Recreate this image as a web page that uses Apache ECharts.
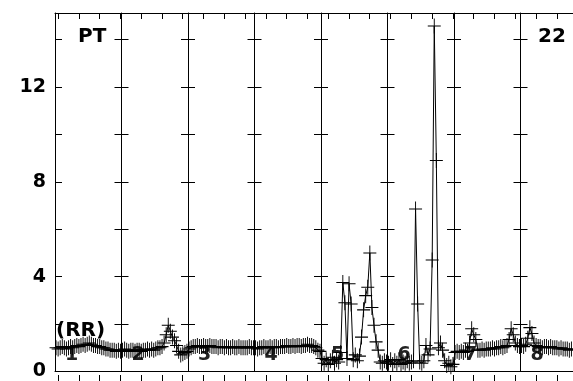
<!DOCTYPE html>
<html><head><meta charset="utf-8">
<script src="https://cdn.jsdelivr.net/npm/echarts@6/dist/echarts.min.js"></script>
<style>html,body{margin:0;padding:0;background:#fff}#c{width:573px;height:381px}</style>
</head><body><div id="c"></div>
<script>
// ---- data ----
const panelLabels = ['1', '2', '3', '4', '5', '6', '7', '8'];
const panel1 = [1.0, 0.95, 1.0, 1.05, 1.0, 0.95, 1.0, 1.05, 1.0, 1.05, 1.1, 1.05, 1.1, 1.15, 1.1, 1.15, 1.2, 1.15, 1.1, 1.1, 1.05, 1.05, 1.0, 1.0, 0.95, 0.95, 0.9, 0.9, 0.9, 0.85, 0.9, 0.85];
const panel2 = [0.9, 0.95, 0.9, 0.85, 0.9, 0.9, 0.85, 0.9, 0.9, 0.85, 0.9, 0.9, 0.95, 0.9, 0.95, 0.9, 0.95, 1.0, 1.0, 1.05, 1.2, 1.55, 1.95, 1.7, 1.45, 1.3, 1.1, 0.85, 0.7, 0.75, 0.8, 0.85];
const panel3 = [0.95, 1.0, 1.05, 1.05, 1.1, 1.05, 1.05, 1.1, 1.05, 1.05, 1.1, 1.05, 1.05, 1.05, 1.0, 1.05, 1.05, 1.0, 1.05, 1.0, 1.0, 1.05, 1.0, 1.0, 1.05, 1.0, 1.0, 1.0, 1.0, 1.05, 1.0, 1.0];
const panel4 = [1.0, 0.95, 1.0, 1.0, 1.05, 1.0, 1.0, 1.05, 1.0, 1.05, 1.05, 1.0, 1.05, 1.05, 1.05, 1.1, 1.05, 1.05, 1.1, 1.05, 1.1, 1.1, 1.05, 1.1, 1.1, 1.15, 1.1, 1.1, 1.05, 1.0, 0.9, 0.85];
const panel5 = [0.55, 0.35, 0.5, 0.3, 0.45, 0.6, 0.35, 0.5, 0.4, 0.8, 3.75, 2.9, 0.55, 3.7, 2.85, 0.5, 0.7, 0.45, 0.65, 1.45, 2.6, 3.2, 3.55, 5.0, 2.7, 1.95, 1.25, 0.9, 0.4, 0.35, 0.45, 0.4];
const panel6 = [0.35, 0.5, 0.3, 0.45, 0.35, 0.5, 0.3, 0.4, 0.35, 0.45, 0.35, 0.4, 0.45, 6.85, 2.85, 0.4, 0.35, 0.45, 1.1, 0.7, 0.95, 4.7, 14.57, 8.9, 1.0, 1.2, 0.9, 0.45, 0.25, 0.35, 0.2, 0.3];
const panel7 = [0.8, 0.85, 0.8, 0.85, 0.8, 0.9, 0.85, 1.2, 1.8, 1.55, 1.35, 0.9, 0.9, 0.95, 0.9, 0.95, 0.95, 0.95, 1.0, 0.95, 1.0, 1.0, 1.05, 1.0, 1.05, 1.1, 1.35, 1.8, 1.55, 1.2, 1.1, 1.05];
const panel8 = [1.1, 1.05, 1.15, 1.4, 1.85, 1.6, 1.2, 1.1, 1.05, 1.05, 1.0, 1.05, 1.05, 1.0, 1.05, 1.0, 1.0, 1.0, 0.95, 1.0, 0.95, 0.95, 0.95, 0.9, 0.95, 0.9, 0.9, 0.95, 0.9, 0.9, 0.9, 0.9];
const panels = [panel1, panel2, panel3, panel4, panel5, panel6, panel7, panel8];
const yLabels = [0, 4, 8, 12];
const titleLeft = 'PT';
const titleRight = '22';
const seriesLabel = '(RR)';

// ---- layout ----
const W = 573, H = 381;
const GRID_LEFT = 55, GRID_TOP = 13, GRID_BOTTOM = 9;
const PTS = 32;                 // x units per panel
const X_MAX = 249.26;
const Y_MAX = 15.12;
const pxPerUnit = (W - GRID_LEFT) / X_MAX;
const panelPx = PTS * pxPerUnit;
const TICK_LEFT = 58;
const FONT = '"DejaVu Sans", "Liberation Sans", sans-serif';

const data = [];
panels.forEach((arr, p) => arr.forEach((v, i) => data.push([p * PTS + i + 0.5, v])));

const yAxes = [{
  type: 'value', gridIndex: 0, min: 0, max: Y_MAX, interval: 2, position: 'left',
  axisLine: { show: true, onZero: false, lineStyle: { color: '#000', width: 1 } },
  axisTick: { show: true, inside: true, length: 7, lineStyle: { color: '#000', width: 1 } },
  axisLabel: {
    formatter: v => yLabels.includes(v) ? String(v) : '',
    fontFamily: FONT, fontWeight: 'bold', fontSize: 19, color: '#000', margin: 9
  },
  splitLine: { show: false }
}];
for (let k = 1; k < panels.length; k++) {
  [true, false].forEach(inside => {
    yAxes.push({
      type: 'value', gridIndex: 0, min: 0, max: Y_MAX, interval: 2, position: 'left',
      offset: -k * panelPx,
      axisLine: { show: !inside, onZero: false, lineStyle: { color: '#000', width: 1 } },
      axisTick: { show: true, inside: inside, length: 7, lineStyle: { color: '#000', width: 1 } },
      axisLabel: { show: false }, splitLine: { show: false }
    });
  });
}
yAxes.push({ type: 'value', gridIndex: 1, min: 0, max: 1, show: false });

const xTickMax = (W - TICK_LEFT) / pxPerUnit;
const xAxes = [
  { type: 'value', gridIndex: 0, min: 0, max: X_MAX, position: 'bottom',
    axisLine: { show: true, onZero: false, lineStyle: { color: '#000', width: 1 } },
    axisTick: { show: false }, axisLabel: { show: false }, splitLine: { show: false } },
  { type: 'value', gridIndex: 0, min: 0, max: X_MAX, position: 'top',
    axisLine: { show: true, onZero: false, lineStyle: { color: '#000', width: 1 } },
    axisTick: { show: false }, axisLabel: { show: false }, splitLine: { show: false } },
  { type: 'value', gridIndex: 1, min: 0, max: xTickMax, interval: 10, position: 'bottom', offset: 3,
    axisLine: { show: false, onZero: false },
    axisTick: { show: true, length: 6, lineStyle: { color: '#000', width: 1 } },
    axisLabel: { show: false }, splitLine: { show: false } },
  { type: 'value', gridIndex: 1, min: 0, max: xTickMax, interval: 10, position: 'top',
    axisLine: { show: false, onZero: false },
    axisTick: { show: true, inside: true, length: 6, lineStyle: { color: '#000', width: 1 } },
    axisLabel: { show: false }, splitLine: { show: false } }
];

const graphics = [
  { type: 'text', x: 78, y: 37, z: 10, style: { text: titleLeft, font: 'bold 20px ' + FONT, fill: '#000', verticalAlign: 'middle', align: 'left' } },
  { type: 'text', x: 538, y: 37, z: 10, style: { text: titleRight, font: 'bold 20px ' + FONT, fill: '#000', verticalAlign: 'middle', align: 'left' } },
  { type: 'text', x: 56, y: 331, z: 10, style: { text: seriesLabel, font: 'bold 20px ' + FONT, fill: '#000', verticalAlign: 'middle', align: 'left' } }
];
panelLabels.forEach((t, k) => {
  graphics.push({ type: 'text', x: GRID_LEFT + k * panelPx + 10, y: 355, z: 0,
    style: { text: t, font: 'bold 19px ' + FONT, fill: '#222', verticalAlign: 'middle', align: 'left' } });
});

const chart = echarts.init(document.getElementById('c'), null, { renderer: 'canvas' });
chart.setOption({
  animation: false,
  backgroundColor: '#fff',
  grid: [
    { left: GRID_LEFT, right: 0, top: GRID_TOP, bottom: GRID_BOTTOM, containLabel: false },
    { left: TICK_LEFT, right: 0, top: GRID_TOP, bottom: GRID_BOTTOM, containLabel: false }
  ],
  xAxis: xAxes,
  yAxis: yAxes,
  graphic: graphics,
  series: [{
    type: 'line', xAxisIndex: 0, yAxisIndex: 0, data: data, z: 3,
    showAllSymbol: true,
    symbol: 'path://M6.5,0L6.5,15M0,7.5L13,7.5', symbolSize: [13, 15],
    itemStyle: { color: '#000', borderColor: '#000', borderWidth: 1 },
    lineStyle: { color: '#000', width: 1 },
    emphasis: { disabled: true }
  }]
});
</script>
</body></html>
